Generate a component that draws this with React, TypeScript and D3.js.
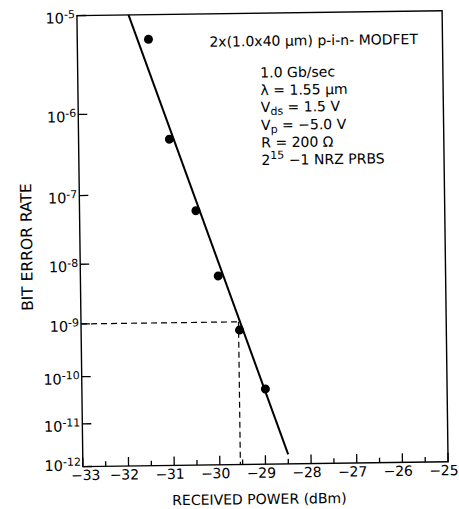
import React from "react";
import * as d3 from "d3";

// ---- data ----
const measuredPower = [-31.44, -31.01, -30.45, -29.98, -29.53, -28.98];
const measuredBER = [5.9e-6, 5.0e-7, 5.9e-8, 6.1e-9, 7.1e-10, 5.0e-11];
const fitPower = [-31.87, -28.5];
const fitBER = [1e-5, 1.7e-12];
const markerPower = -29.55;
const markerBER = 1e-9;
const xTickValues = [-33, -32, -31, -30, -29, -28, -27, -26, -25];
const xMinorTickValues = [-32.5, -31.5, -30.5, -29.5, -28.5, -27.5, -26.5, -25.5];
const yTickExponents = [-5, -6, -7, -8, -9, -10, -11, -12];
const xTitle = "RECEIVED POWER (dBm)";
const yTitle = "BIT ERROR RATE";

const W = 459;
const H = 509;
const left = 79.9;
const right = 445.1;
const top = 13.2;
const bottom = 464.2;
const tilt = -0.76; // scan is slightly rotated
const cx = 262.5;
const cy = 238.7;
const FONT = "'DejaVu Sans', 'Liberation Sans', Arial, sans-serif";

// BER probability-paper transform
const tBER = (b: number) => Math.log10(-Math.log10(b) - 0.9);

export default function App() {
  const x = d3.scaleLinear().domain([-33, -25]).range([left, right]);
  const yLin = d3
    .scaleLinear()
    .domain([tBER(1e-5), tBER(1e-12)])
    .range([top, bottom]);
  const y = (b: number) => yLin(tBER(b));

  const fitLine = d3
    .line<number>()
    .x((_, i) => x(fitPower[i]))
    .y((_, i) => y(fitBER[i]));

  const mx = x(markerPower);
  const my = y(markerBER);

  return (
    <svg
      width={W}
      height={H}
      style={{ position: "absolute", left: 0, top: 0, background: "#fff" }}
      fontFamily={FONT}
    >
      <rect x={0} y={0} width={W} height={H} fill="#fff" />
      <g transform={`rotate(${tilt} ${cx} ${cy})`}>
        {/* frame */}
        <rect
          x={left}
          y={top}
          width={right - left}
          height={bottom - top}
          fill="none"
          stroke="#000"
          strokeWidth={1.4}
        />
        {/* x ticks */}
        {xTickValues.map((v) => (
          <line key={"xt" + v} x1={x(v)} x2={x(v)} y1={bottom} y2={bottom - 9} stroke="#000" strokeWidth={1.3} />
        ))}
        {xMinorTickValues.map((v) => (
          <line key={"xm" + v} x1={x(v)} x2={x(v)} y1={bottom} y2={bottom - 5} stroke="#000" strokeWidth={1.3} />
        ))}
        {xTickValues.map((v, i) => {
          const shift = i === 0 ? 8.5 : 1.5;
          return (
            <g key={"xl" + v} fontSize={14}>
              <text x={x(v) + shift} y={bottom + 13.5} textAnchor="middle">
                {String(Math.abs(v))}
              </text>
              <text x={x(v) + shift - 8.5} y={bottom + 13.5} textAnchor="end">
                {"\u2212"}
              </text>
            </g>
          );
        })}
        {/* y ticks */}
        {yTickExponents.map((e) => (
          <line
            key={"yt" + e}
            x1={left}
            x2={left + 9}
            y1={y(Math.pow(10, e))}
            y2={y(Math.pow(10, e))}
            stroke="#000"
            strokeWidth={1.3}
          />
        ))}
        {yTickExponents.map((e, i) => (
          <text
            key={"yl" + e}
            x={left - 2}
            y={y(Math.pow(10, e)) + (i === yTickExponents.length - 1 ? 4 : 7.5)}
            textAnchor="end"
            fontSize={14.5}
          >
            10
            <tspan fontSize={11} dy={-5}>
              {"-" + Math.abs(e)}
            </tspan>
          </text>
        ))}
        {/* dashed guide at 1e-9 */}
        <path
          d={`M${left},${my}H${mx}M${mx},${my}V${bottom}`}
          fill="none"
          stroke="#000"
          strokeWidth={1.2}
          strokeDasharray="6,4"
        />
        {/* fit line */}
        <path d={fitLine(fitPower) || ""} fill="none" stroke="#000" strokeWidth={2} />
        {/* points */}
        {measuredPower.map((p, i) => (
          <circle key={"pt" + i} cx={x(p)} cy={y(measuredBER[i])} r={4.5} fill="#000" />
        ))}
        {/* annotation */}
        <text x={212} y={46} fontSize={14}>
          2x(1.0x40 {"\u03bc"}m) p-i-n- MODFET
        </text>
        <g fontSize={14}>
          <text x={262.5} y={77.5}>1.0 Gb/sec</text>
          <text x={262.5} y={95}>{"\u03bb = 1.55 \u03bcm"}</text>
          <text x={262.5} y={112}>
            V<tspan fontSize={11} dy={3}>ds</tspan>
            <tspan dy={-3}> = 1.5 V</tspan>
          </text>
          <text x={262.5} y={130}>
            V<tspan fontSize={11} dy={3}>p</tspan>
            <tspan dy={-3}>{" = \u22125.0 V"}</tspan>
          </text>
          <text x={262.5} y={147.5}>{"R = 200 \u03a9"}</text>
          <text x={262.5} y={165}>
            2<tspan fontSize={11} dy={-6}>15</tspan>
            <tspan dy={6}>{" \u22121 NRZ PRBS"}</tspan>
          </text>
        </g>
        {/* axis titles */}
        <text x={256} y={504} textAnchor="middle" fontSize={14}>
          {xTitle}
        </text>
        <text transform="translate(32,244) rotate(-90)" textAnchor="middle" fontSize={15.5}>
          {yTitle}
        </text>
      </g>
    </svg>
  );
}
